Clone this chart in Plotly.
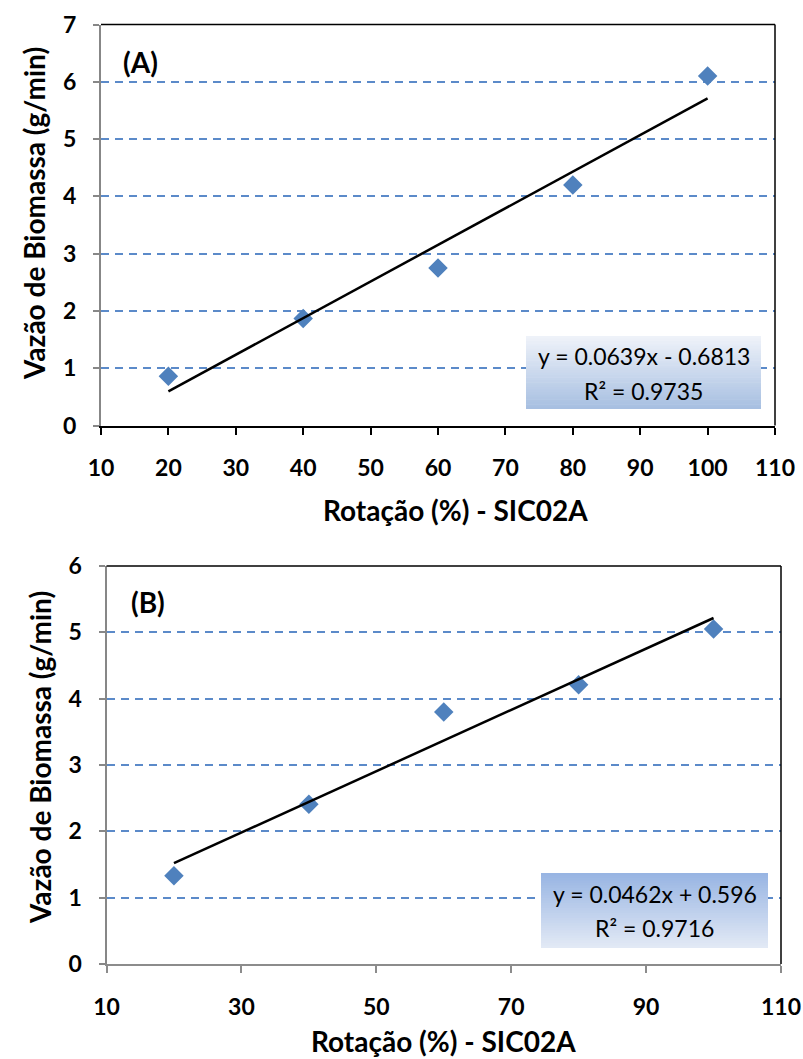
import plotly.graph_objects as go

# ---------------- data ----------------
rot_a = [20, 40, 60, 80, 100]
vazao_a = [0.86, 1.87, 2.75, 4.20, 6.10]
slope_a, intercept_a, r2_a = 0.0639, -0.6813, 0.9735

rot_b = [20, 40, 60, 80, 100]
vazao_b = [1.33, 2.41, 3.80, 4.21, 5.05]
slope_b, intercept_b, r2_b = 0.0462, 0.596, 0.9716

xticks_a = [10, 20, 30, 40, 50, 60, 70, 80, 90, 100, 110]
yticks_a = [0, 1, 2, 3, 4, 5, 6, 7]
xticks_b = [10, 30, 50, 70, 90, 110]
yticks_b = [0, 1, 2, 3, 4, 5, 6]

W, H = 803, 1059
FONT = "Lato"
BLUE = "#4F81BD"
GRID = "#5b8ac9"

def px(x):
    return x / W

def py(y):
    return 1 - y / H

fig = go.Figure()

def trend(xs, m, b):
    x0, x1 = min(xs), max(xs)
    return [x0, x1], [m * x0 + b, m * x1 + b]

tx, ty = trend(rot_a, slope_a, intercept_a)
fig.add_trace(go.Scatter(x=rot_a, y=vazao_a, mode="markers", xaxis="x", yaxis="y",
                         marker=dict(symbol="diamond", size=15, color=BLUE), showlegend=False))
fig.add_trace(go.Scatter(x=tx, y=ty, mode="lines", xaxis="x", yaxis="y",
                         line=dict(color="black", width=2.5), showlegend=False))

tx, ty = trend(rot_b, slope_b, intercept_b)
fig.add_trace(go.Scatter(x=rot_b, y=vazao_b, mode="markers", xaxis="x2", yaxis="y2",
                         marker=dict(symbol="diamond", size=15, color=BLUE), showlegend=False))
fig.add_trace(go.Scatter(x=tx, y=ty, mode="lines", xaxis="x2", yaxis="y2",
                         line=dict(color="black", width=2.5), showlegend=False))

tickfont = dict(family=FONT, size=23, color="black", weight="bold")

def xax(domain, anchor, ticks, linecolor, tickcolor):
    return dict(domain=domain, anchor=anchor, range=[ticks[0], ticks[-1]],
                tickmode="array", tickvals=ticks, showgrid=False, zeroline=False,
                showline=True, linecolor=linecolor, linewidth=2,
                ticks="outside", ticklen=7, tickwidth=2, tickcolor=tickcolor,
                tickfont=tickfont, ticklabelstandoff=14, fixedrange=True,
                automargin=False)

def yax(domain, anchor, ticks):
    return dict(domain=domain, anchor=anchor, range=[ticks[0], ticks[-1]],
                tickmode="array", tickvals=ticks, showgrid=True, gridcolor=GRID,
                gridwidth=2, griddash="8px,6px", zeroline=False,
                showline=True, linecolor="#878787", linewidth=2,
                ticks="outside", ticklen=6, tickwidth=2, tickcolor="#878787",
                tickfont=tickfont, ticklabelstandoff=12, fixedrange=True,
                automargin=False)

fig.update_layout(
    width=W, height=H, margin=dict(l=0, r=0, t=0, b=0, autoexpand=False),
    paper_bgcolor="white", plot_bgcolor="white",
    xaxis=xax([px(101), px(775)], "y", xticks_a, "black", "black"),
    yaxis=yax([py(425.5), py(24.5)], "x", yticks_a),
    xaxis2=xax([px(106.5), px(781)], "y2", xticks_b, "#8c8c8c", "#8c8c8c"),
    yaxis2=yax([py(964), py(566)], "x2", yticks_b),
)

shapes = []
# frame borders (top and right)
for xr, yr in (("x domain", "y domain"), ("x2 domain", "y2 domain")):
    shapes.append(dict(type="line", xref=xr, yref=yr, x0=0, x1=1, y0=1, y1=1,
                       line=dict(color="black", width=1.5), layer="above"))
    shapes.append(dict(type="line", xref=xr, yref=yr, x0=1, x1=1, y0=0, y1=1,
                       line=dict(color="black", width=1.5), layer="above"))

def hexrgb(h):
    h = h.lstrip("#")
    return [int(h[i:i + 2], 16) for i in (0, 2, 4)]

def gradient_box(x0, x1, y0, y1, ctop, cbot, n=30):
    a, b = hexrgb(ctop), hexrgb(cbot)
    for i in range(n):
        t = i / (n - 1)
        c = [round(a[k] + (b[k] - a[k]) * t) for k in range(3)]
        ya = y0 + (y1 - y0) * i / n
        yb = y0 + (y1 - y0) * (i + 1) / n + 0.5
        shapes.append(dict(type="rect", xref="paper", yref="paper",
                           x0=px(x0), x1=px(x1), y0=py(ya), y1=py(min(yb, y1)),
                           line=dict(width=0), fillcolor=f"rgb({c[0]},{c[1]},{c[2]})",
                           layer="above"))

gradient_box(526, 761, 336, 409, "#eef2f9", "#a7bfe1")
gradient_box(541, 768, 873, 948, "#98b5e3", "#e2e9f5")
fig.update_layout(shapes=shapes)

ann = []
eqfont = dict(family=FONT, size=23, color="black")
def eq_text(m, b, r2):
    sign = "-" if b < 0 else "+"
    return f"y = {m:.4f}x {sign} {abs(b):g}", f"R² = {r2:.4f}"

l1, l2 = eq_text(slope_a, intercept_a, r2_a)
ann.append(dict(x=px(643.5), y=py(356), text=l1))
ann.append(dict(x=px(643.5), y=py(391), text=l2))
l1, l2 = eq_text(slope_b, intercept_b, r2_b)
ann.append(dict(x=px(654.5), y=py(894), text=l1))
ann.append(dict(x=px(654.5), y=py(928), text=l2))
for a in ann:
    a.update(xref="paper", yref="paper", showarrow=False, font=eqfont,
             xanchor="center", yanchor="middle")

titlefont = dict(family=FONT, size=28, color="black", weight="bold")
ann += [
    dict(x=px(140), y=py(62), text="(A)", font=titlefont),
    dict(x=px(148), y=py(602), text="(B)", font=titlefont),
    dict(x=px(455), y=py(510), text="Rotação (%) - SIC02A", font=titlefont),
    dict(x=px(443), y=py(1041), text="Rotação (%) - SIC02A", font=titlefont),
    dict(x=px(34), y=py(214), text="Vazão de Biomassa (g/min)", font=titlefont, textangle=-90),
    dict(x=px(40), y=py(758), text="Vazão de Biomassa (g/min)", font=titlefont, textangle=-90),
]
for a in ann[4:]:
    a.update(xref="paper", yref="paper", showarrow=False, xanchor="center", yanchor="middle")

fig.update_layout(annotations=ann)
fig.write_html("out.html")
